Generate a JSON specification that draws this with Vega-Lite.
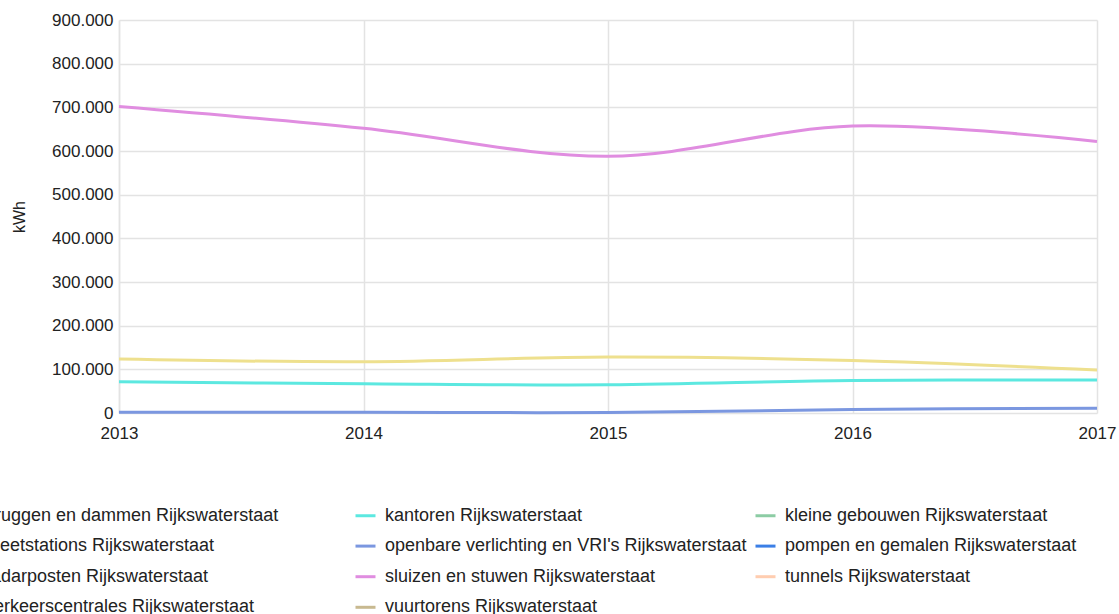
{
  "$schema": "https://vega.github.io/schema/vega-lite/v6.json",
  "autosize": {"type": "none"},
  "padding": {"left": 119, "top": 20, "right": 22, "bottom": 201},
  "width": 978,
  "height": 393,
  "config": {
    "locale": {"number": {"decimal": ",", "thousands": ".", "grouping": [3], "currency": ["€", ""]}},
    "view": {"stroke": null},
    "font": "Liberation Sans"
  },
  "data": {
    "values": [
      {"jaar": 2013, "reeks": "bruggen en dammen Rijkswaterstaat", "kWh": 123500},
      {"jaar": 2014, "reeks": "bruggen en dammen Rijkswaterstaat", "kWh": 117500},
      {"jaar": 2015, "reeks": "bruggen en dammen Rijkswaterstaat", "kWh": 128000},
      {"jaar": 2016, "reeks": "bruggen en dammen Rijkswaterstaat", "kWh": 120000},
      {"jaar": 2017, "reeks": "bruggen en dammen Rijkswaterstaat", "kWh": 98500},
      {"jaar": 2013, "reeks": "kantoren Rijkswaterstaat", "kWh": 71500},
      {"jaar": 2014, "reeks": "kantoren Rijkswaterstaat", "kWh": 67000},
      {"jaar": 2015, "reeks": "kantoren Rijkswaterstaat", "kWh": 64500},
      {"jaar": 2016, "reeks": "kantoren Rijkswaterstaat", "kWh": 74500},
      {"jaar": 2017, "reeks": "kantoren Rijkswaterstaat", "kWh": 75500},
      {"jaar": 2013, "reeks": "openbare verlichting en VRI's Rijkswaterstaat", "kWh": 1500},
      {"jaar": 2014, "reeks": "openbare verlichting en VRI's Rijkswaterstaat", "kWh": 1500},
      {"jaar": 2015, "reeks": "openbare verlichting en VRI's Rijkswaterstaat", "kWh": 1200},
      {"jaar": 2016, "reeks": "openbare verlichting en VRI's Rijkswaterstaat", "kWh": 8000},
      {"jaar": 2017, "reeks": "openbare verlichting en VRI's Rijkswaterstaat", "kWh": 11000},
      {"jaar": 2013, "reeks": "sluizen en stuwen Rijkswaterstaat", "kWh": 702000},
      {"jaar": 2014, "reeks": "sluizen en stuwen Rijkswaterstaat", "kWh": 652000},
      {"jaar": 2015, "reeks": "sluizen en stuwen Rijkswaterstaat", "kWh": 588000},
      {"jaar": 2016, "reeks": "sluizen en stuwen Rijkswaterstaat", "kWh": 657000},
      {"jaar": 2017, "reeks": "sluizen en stuwen Rijkswaterstaat", "kWh": 622000}
    ]
  },
  "mark": {"type": "line", "interpolate": "cardinal", "strokeWidth": 3, "strokeCap": "butt"},
  "encoding": {
    "x": {
      "field": "jaar",
      "type": "quantitative",
      "scale": {"domain": [2013, 2017], "nice": false, "zero": false},
      "axis": {
        "values": [2013, 2014, 2015, 2016, 2017],
        "format": "d",
        "title": null,
        "domain": false,
        "ticks": false,
        "labelFlush": false,
        "labelFontSize": 17,
        "labelColor": "#222222",
        "labelPadding": 12,
        "gridColor": "#e3e3e3",
        "gridWidth": 1.5
      }
    },
    "y": {
      "field": "kWh",
      "type": "quantitative",
      "scale": {"domain": [0, 900000], "nice": false},
      "axis": {
        "values": [0, 100000, 200000, 300000, 400000, 500000, 600000, 700000, 800000, 900000],
        "format": ",d",
        "title": "kWh",
        "titleFontSize": 16,
        "titleFontWeight": "normal",
        "titleColor": "#222222",
        "titlePadding": 24,
        "domain": true,
        "domainColor": "#e3e3e3",
        "domainWidth": 1.5,
        "ticks": false,
        "labelFlush": false,
        "labelFontSize": 17,
        "labelColor": "#222222",
        "labelPadding": 6,
        "gridColor": "#e3e3e3",
        "gridWidth": 1.5
      }
    },
    "color": {
      "field": "reeks",
      "type": "nominal",
      "scale": {
        "domain": [
          "bruggen en dammen Rijkswaterstaat",
          "kantoren Rijkswaterstaat",
          "kleine gebouwen Rijkswaterstaat",
          "meetstations Rijkswaterstaat",
          "openbare verlichting en VRI's Rijkswaterstaat",
          "pompen en gemalen Rijkswaterstaat",
          "radarposten Rijkswaterstaat",
          "sluizen en stuwen Rijkswaterstaat",
          "tunnels Rijkswaterstaat",
          "verkeerscentrales Rijkswaterstaat",
          "vuurtorens Rijkswaterstaat"
        ],
        "range": ["#eee08e", "#5ce8e0", "#8ccca4", "#b0b0e8", "#7b97e0", "#3b7fe6", "#e8a0a0", "#e08de0", "#ffcdb0", "#a0c8e8", "#c8b990"]
      },
      "legend": {
        "title": null,
        "orient": "none",
        "legendX": -165,
        "legendY": 484,
        "direction": "horizontal",
        "columns": 3,
        "gridAlign": "all",
        "columnPadding": 2,
        "rowPadding": 9.6,
        "padding": 0,
        "symbolType": "stroke",
        "symbolStrokeWidth": 3,
        "symbolSize": 400,
        "labelOffset": 8,
        "labelFontSize": 18,
        "labelColor": "#222222",
        "labelLimit": 500
      }
    }
  }
}
